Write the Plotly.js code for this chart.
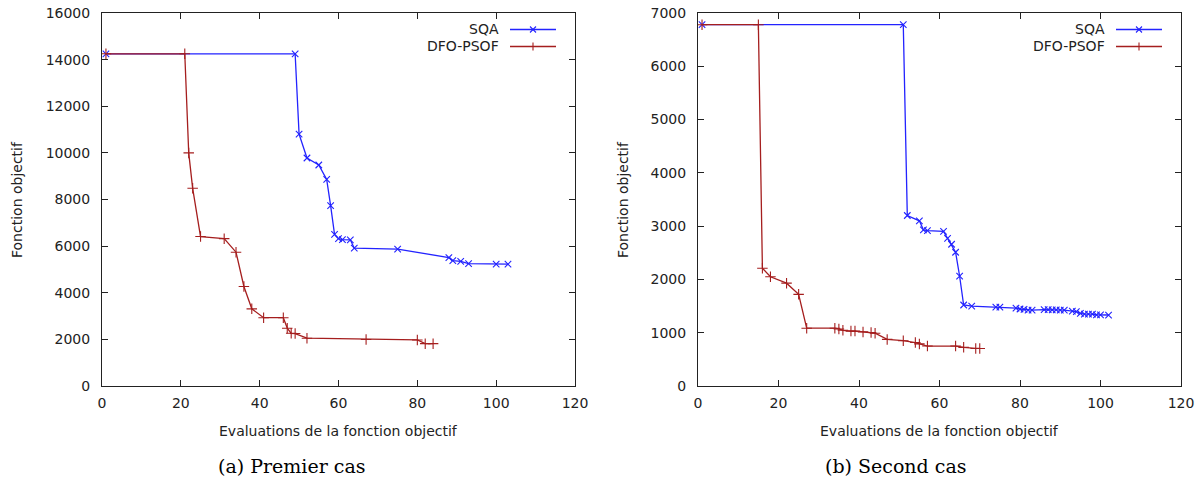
<!DOCTYPE html>
<html>
<head>
<meta charset="utf-8">
<script src="https://cdn.plot.ly/plotly-3.0.1.min.js"></script>
<style>html,body{margin:0;padding:0;background:#fff;}#chart{width:1204px;height:486px;}</style>
</head>
<body>
<div id="chart"></div>
<script>
// ---- Data: (a) Premier cas ----
const sqa1X = [1, 49, 50, 52, 55, 57, 58, 59, 60, 61, 63, 64, 75, 88, 89, 91, 93, 100, 103];
const sqa1Y = [14250, 14250, 10800, 9780, 9480, 8860, 7740, 6500, 6320, 6280, 6270, 5910, 5870, 5510, 5380, 5350, 5250, 5225, 5225];
const dfo1X = [1, 21, 22, 23, 25, 31, 34, 36, 38, 41, 46, 47, 48, 49, 52, 67, 80, 82, 84];
const dfo1Y = [14250, 14250, 10000, 8480, 6410, 6320, 5740, 4270, 3310, 2930, 2930, 2480, 2260, 2250, 2050, 1995, 1975, 1816, 1816];

// ---- Data: (b) Second cas ----
const sqa2X = [1, 51, 52, 55, 56, 57, 61, 62, 63, 64, 65, 66, 68, 74, 75, 79, 80, 81, 82, 83, 86, 87, 88, 89, 90, 91, 93, 94, 95, 96, 97, 98, 99, 100, 102];
const sqa2Y = [6780, 6780, 3200, 3100, 2930, 2915, 2900, 2770, 2660, 2510, 2060, 1520, 1500, 1480, 1480, 1460, 1445, 1440, 1425, 1425, 1435, 1435, 1430, 1430, 1425, 1425, 1405, 1395, 1365, 1350, 1350, 1350, 1335, 1335, 1332];
const dfo2X = [1, 15, 16, 18, 22, 25, 27, 34, 35, 36, 38, 39, 41, 43, 44, 47, 51, 54, 55, 57, 64, 66, 69, 70];
const dfo2Y = [6780, 6780, 2210, 2050, 1930, 1720, 1085, 1085, 1070, 1045, 1030, 1030, 1015, 1005, 990, 875, 850, 815, 790, 750, 750, 725, 705, 705];

const seriesNames = ["SQA", "DFO-PSOF"];
const xTitle = "Evaluations de la fonction objectif";
const yTitle = "Fonction objectif";
const captions = ["(a) Premier cas", "(b) Second cas"];

// ---- Styles ----
const W = 1204, H = 486;
const blue = "rgb(35,35,255)";
const red = "rgb(165,30,30)";
const font = "DejaVu Sans, sans-serif";
const txt = "#222";

function sqaTrace(x, y, xa, ya) {
  return {x: x, y: y, xaxis: xa, yaxis: ya, type: "scatter", mode: "lines+markers", name: seriesNames[0],
    line: {color: blue, width: 1.3},
    marker: {symbol: "x-thin", size: 6.5, line: {color: blue, width: 1.1}, color: blue},
    showlegend: false, hoverinfo: "x+y"};
}
function dfoTrace(x, y, xa, ya) {
  return {x: x, y: y, xaxis: xa, yaxis: ya, type: "scatter", mode: "lines+markers", name: seriesNames[1],
    line: {color: red, width: 1.3},
    marker: {symbol: "cross-thin", size: 7.5, line: {color: red, width: 1.1}, color: red},
    showlegend: false, hoverinfo: "x+y"};
}

const data = [
  sqaTrace(sqa1X, sqa1Y, "x", "y"),
  dfoTrace(dfo1X, dfo1Y, "x", "y"),
  sqaTrace(sqa2X, sqa2Y, "x2", "y2"),
  dfoTrace(dfo2X, dfo2Y, "x2", "y2")
];

const px = v => v / W;
const py = v => 1 - v / H;

function axisCommon() {
  return {
    showgrid: false, zeroline: false, showline: true, mirror: "ticks",
    linecolor: "#222", linewidth: 1,
    ticks: "inside", ticklen: 6, tickwidth: 1, tickcolor: "#222",
    tickfont: {family: font, size: 14, color: txt},
    tickformat: "d",
    fixedrange: true
  };
}

const yDom = [100 / H, 473 / H];
const layout = {
  width: W, height: H,
  margin: {l: 0, r: 0, t: 0, b: 0},
  paper_bgcolor: "#fff", plot_bgcolor: "#fff",
  showlegend: false,
  xaxis: Object.assign(axisCommon(), {domain: [102 / W, 575 / W], range: [0, 120], dtick: 20, tick0: 0, anchor: "y", ticklabelstandoff: 4}),
  yaxis: Object.assign(axisCommon(), {domain: yDom, range: [0, 16000], dtick: 2000, tick0: 0, anchor: "x", ticklabelstandoff: 8}),
  xaxis2: Object.assign(axisCommon(), {domain: [698 / W, 1181 / W], range: [0, 120], dtick: 20, tick0: 0, anchor: "y2", ticklabelstandoff: 4}),
  yaxis2: Object.assign(axisCommon(), {domain: yDom, range: [0, 7000], dtick: 1000, tick0: 0, anchor: "x2", ticklabelstandoff: 8}),
  annotations: [],
  shapes: []
};

// axis titles and captions
const panels = [
  {xl: 102, xr: 575, ytx: 17, cap: 291},
  {xl: 698, xr: 1181, ytx: 623, cap: 896}
];
panels.forEach((p, i) => {
  layout.annotations.push({xref: "paper", yref: "paper", x: px((p.xl + p.xr) / 2), y: py(431), text: xTitle,
    showarrow: false, xanchor: "center", yanchor: "middle", font: {family: font, size: 14, color: txt}});
  layout.annotations.push({xref: "paper", yref: "paper", x: px(p.ytx), y: py(200), text: yTitle, textangle: -90,
    showarrow: false, xanchor: "center", yanchor: "middle", font: {family: font, size: 14, color: txt}});
  layout.annotations.push({xref: "paper", yref: "paper", x: px(p.cap), y: py(466), text: captions[i],
    showarrow: false, xanchor: "center", yanchor: "middle", font: {family: "DejaVu Serif, serif", size: 19, color: "#000"}});

  // gnuplot-style legend: text right-aligned, sample on the right
  const textR = p.xr - 74.5, l0 = p.xr - 65, l1 = p.xr - 19, mx = (l0 + l1) / 2;
  const rows = [{y: 29.5, c: blue, n: seriesNames[0], m: "x"}, {y: 46.5, c: red, n: seriesNames[1], m: "+"}];
  rows.forEach(r => {
    layout.annotations.push({xref: "paper", yref: "paper", x: px(textR), y: py(r.y), text: r.n, showarrow: false,
      xanchor: "right", yanchor: "middle", font: {family: font, size: 14, color: txt}});
    layout.shapes.push({type: "line", xref: "paper", yref: "paper", x0: px(l0), x1: px(l1), y0: py(r.y), y1: py(r.y),
      line: {color: r.c, width: 1.3}});
    if (r.m === "x") {
      layout.shapes.push({type: "line", xref: "paper", yref: "paper", x0: px(mx - 3), x1: px(mx + 3), y0: py(r.y - 3), y1: py(r.y + 3), line: {color: r.c, width: 1.1}});
      layout.shapes.push({type: "line", xref: "paper", yref: "paper", x0: px(mx - 3), x1: px(mx + 3), y0: py(r.y + 3), y1: py(r.y - 3), line: {color: r.c, width: 1.1}});
    } else {
      layout.shapes.push({type: "line", xref: "paper", yref: "paper", x0: px(mx), x1: px(mx), y0: py(r.y - 4), y1: py(r.y + 4), line: {color: r.c, width: 1.1}});
    }
  });
});

Plotly.newPlot("chart", data, layout, {staticPlot: true, displayModeBar: false});
</script>
</body>
</html>
